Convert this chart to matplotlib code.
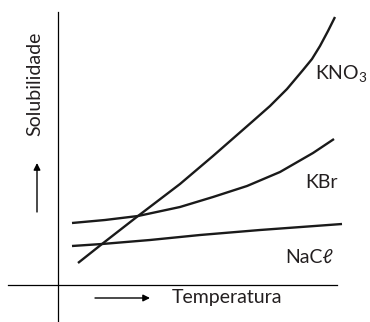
import matplotlib
matplotlib.use('Agg')
import matplotlib.pyplot as plt

# schematic solubility curves (arbitrary units)
t_kno3 = [20, 44, 80, 122, 155, 179, 195, 212, 229, 245, 254, 262, 270, 277]
s_kno3 = [22, 41, 69, 101, 129, 150, 164, 179, 196, 215, 226, 239, 254, 268]

t_kbr = [14, 47, 80, 122, 155, 189, 222, 255, 276]
s_kbr = [62, 65, 69, 78, 88, 99, 113, 132, 146]

t_nacl = [14, 44, 92, 142, 202, 284]
s_nacl = [39, 41, 45, 50, 55, 61]

labels = ['KNO$_3$', 'KBr', 'NaC\u2113']

plt.rcParams['font.family'] = ['Lato', 'DejaVu Sans']
plt.rcParams['mathtext.fontset'] = 'custom'
plt.rcParams['mathtext.rm'] = 'Lato'
plt.rcParams['mathtext.it'] = 'Lato:italic'

fig = plt.figure(figsize=(3.7, 3.22), dpi=100)
ax = fig.add_axes([0, 0, 1, 1])
ax.set_xlim(-58, 312)
ax.set_ylim(-37, 285)

for t, s in [(t_kno3, s_kno3), (t_kbr, s_kbr), (t_nacl, s_nacl)]:
    ax.plot(t, s, color='#1a1a1a', lw=1.7, solid_capstyle='butt', solid_joinstyle='round')

# axes crossing at the origin
for side in ['top', 'right']:
    ax.spines[side].set_visible(False)
ax.spines['left'].set_position(('data', 0))
ax.spines['bottom'].set_position(('data', 0))
ax.spines['left'].set_bounds(-37, 273)
ax.spines['bottom'].set_bounds(-50, 279)
ax.spines['left'].set_linewidth(0.9)
ax.spines['bottom'].set_linewidth(0.9)
ax.set_xticks([])
ax.set_yticks([])
ax.patch.set_alpha(0)

fs = 14
tc = '#231f20'
ax.text(257, 212, labels[0], fontsize=fs, ha='left', va='center', color=tc)
ax.text(247, 102, labels[1], fontsize=fs, ha='left', va='center', color=tc)
ax.text(227, 28, labels[2], fontsize=fs, ha='left', va='center', color=tc)

ax.text(-23, 201, 'Solubilidade', fontsize=fs, rotation=90, ha='center', va='center', color=tc)
ax.annotate('', xy=(-21, 122), xytext=(-21, 73),
            arrowprops=dict(arrowstyle='-|>', color='black', lw=1.0,
                            mutation_scale=10, shrinkA=0, shrinkB=0))
ax.text(169, -13, 'Temperatura', fontsize=fs, ha='center', va='center', color=tc)
ax.annotate('', xy=(92, -13), xytext=(37, -13),
            arrowprops=dict(arrowstyle='-|>', color='black', lw=1.0,
                            mutation_scale=10, shrinkA=0, shrinkB=0))

fig.savefig('out.png', dpi=100)
